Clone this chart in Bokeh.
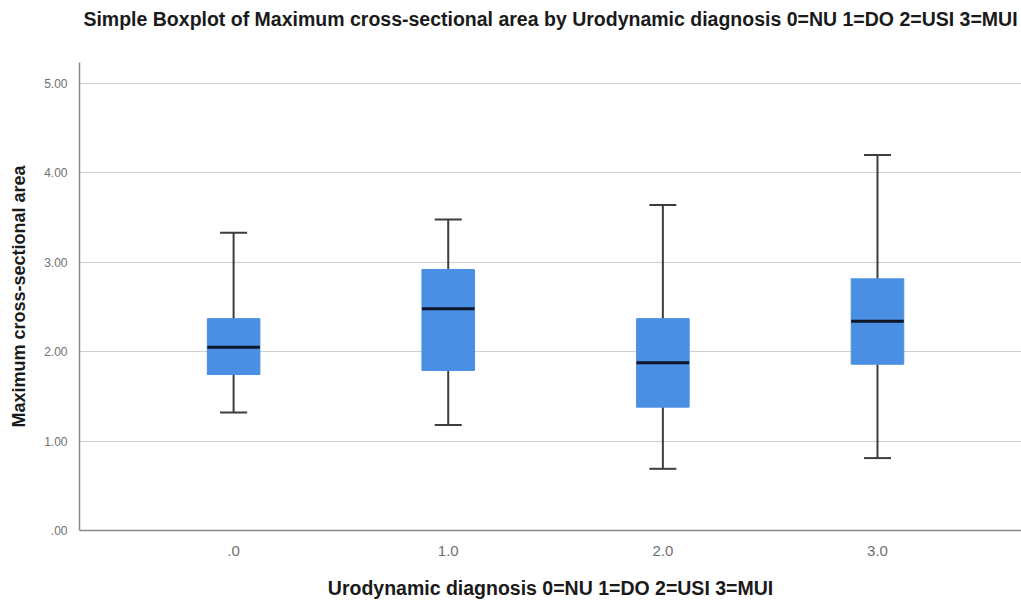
from bokeh.plotting import figure
from bokeh.models import Range1d, FixedTicker, LinearAxis
from bokeh.embed import file_html
from bokeh.resources import INLINE

# Boxplot summary per diagnosis group
groups = [0, 1, 2, 3]
group_labels = [".0", "1.0", "2.0", "3.0"]
whisker_low = [1.32, 1.18, 0.69, 0.81]
q1 = [1.745, 1.79, 1.38, 1.86]
median = [2.05, 2.48, 1.876, 2.34]
q3 = [2.37, 2.92, 2.37, 2.815]
whisker_high = [3.33, 3.48, 3.64, 4.20]

y_ticks = [0, 1, 2, 3, 4, 5]
y_tick_labels = [".00", "1.00", "2.00", "3.00", "4.00", "5.00"]

TITLE = "Simple Boxplot of Maximum cross-sectional area by Urodynamic diagnosis 0=NU 1=DO 2=USI 3=MUI"
FONT = "Liberation Sans"
BOX_W = 0.245
CAP_W = 0.126

p = figure(
    width=1021, height=602,
    x_range=Range1d(-0.718, 3.671), y_range=Range1d(0, 5.235),
    output_backend="svg", toolbar_location=None,
    min_border_left=79, min_border_right=0, min_border_top=62, min_border_bottom=72,
)
p.outline_line_color = None
p.background_fill_color = "white"
p.border_fill_color = "white"

x_axis = p.below[0]
y_axis = p.left[0]

# title drawn as the label of a bare top axis, which allows a free gap above the plot area
title_axis = LinearAxis(
    axis_label=TITLE, ticker=FixedTicker(ticks=[]),
    axis_line_color=None, major_tick_line_color=None, minor_tick_line_color=None,
    major_label_text_font_size="0px",
    major_tick_out=0, major_tick_in=0, minor_tick_out=0, minor_tick_in=0,
    major_label_standoff=0, axis_label_standoff=33,
    axis_label_text_font=FONT, axis_label_text_font_size="19.5px",
    axis_label_text_font_style="bold", axis_label_text_color="#1a1a1a",
)
p.add_layout(title_axis, "above")

# axes
x_axis.ticker = FixedTicker(ticks=groups)
x_axis.major_label_overrides = {g: lab for g, lab in zip(groups, group_labels)}
y_axis.ticker = FixedTicker(ticks=y_ticks)
y_axis.major_label_overrides = {t: lab for t, lab in zip(y_ticks, y_tick_labels)}

x_axis.axis_label = "Urodynamic diagnosis 0=NU 1=DO 2=USI 3=MUI"
y_axis.axis_label = "Maximum cross-sectional area"
for ax in (x_axis, y_axis):
    ax.axis_label_text_font = FONT
    ax.axis_label_text_font_style = "bold"
    ax.axis_label_text_color = "#1a1a1a"
    ax.major_label_text_font = FONT
    ax.major_label_text_color = "#707070"
    ax.axis_line_color = "#8a8a8a"
    ax.axis_line_width = 1.5
    ax.major_tick_line_color = None
    ax.minor_tick_line_color = None
x_axis.axis_label_text_font_size = "19.5px"
y_axis.axis_label_text_font_size = "18px"
x_axis.major_label_text_font_size = "15px"
y_axis.major_label_text_font_size = "12px"
x_axis.major_label_standoff = 9
x_axis.axis_label_standoff = 18
y_axis.major_label_standoff = 6
y_axis.axis_label_standoff = 12

p.xgrid.grid_line_color = None
p.ygrid.grid_line_color = "#cfcfcf"
p.ygrid.grid_line_width = 1

# whiskers
p.segment(x0=groups, y0=whisker_low, x1=groups, y1=q1, line_color="#3d3d3d", line_width=2)
p.segment(x0=groups, y0=q3, x1=groups, y1=whisker_high, line_color="#3d3d3d", line_width=2)
p.segment(x0=[g - CAP_W / 2 for g in groups], y0=whisker_low,
          x1=[g + CAP_W / 2 for g in groups], y1=whisker_low, line_color="#3d3d3d", line_width=2)
p.segment(x0=[g - CAP_W / 2 for g in groups], y0=whisker_high,
          x1=[g + CAP_W / 2 for g in groups], y1=whisker_high, line_color="#3d3d3d", line_width=2)

# boxes and medians
p.vbar(x=groups, width=BOX_W, bottom=q1, top=q3, fill_color="#4a8fe3", line_color="#4a8fe3", line_width=1)
p.segment(x0=[g - BOX_W / 2 for g in groups], y0=median,
          x1=[g + BOX_W / 2 for g in groups], y1=median, line_color="#0d1526", line_width=3)

open("out.html", "w").write(file_html(p, INLINE))
